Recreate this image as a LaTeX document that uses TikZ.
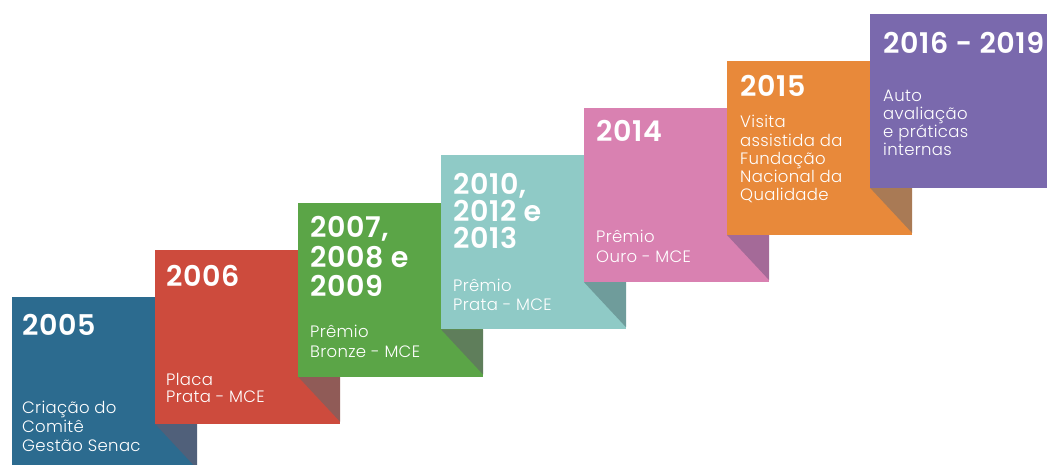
\documentclass[tikz,border=0pt]{standalone}
\usepackage{fontspec}
\setmainfont{Poppins}
\newfontfamily\lightfont{Poppins Light}[LetterSpace=2]
\newfontfamily\yrfont{Poppins SemiBold}[LetterSpace=2]
\definecolor{cA}{HTML}{2C6B8F}
\definecolor{cB}{HTML}{CD4B3D}
\definecolor{cC}{HTML}{5BA547}
\definecolor{cD}{HTML}{8FCAC6}
\definecolor{cE}{HTML}{D981B1}
\definecolor{cF}{HTML}{E8893A}
\definecolor{cG}{HTML}{7A69AD}
\definecolor{sA}{HTML}{50607A}
\definecolor{sB}{HTML}{905B57}
\definecolor{sC}{HTML}{5F7E5B}
\definecolor{sD}{HTML}{6F9C9B}
\definecolor{sE}{HTML}{A46A98}
\definecolor{sF}{HTML}{A97A55}
\begin{document}
\begin{tikzpicture}[x=1pt,y=-1pt,
  yr/.style={anchor=base west, inner sep=0pt, text=white, font=\fontsize{28.5}{28}\selectfont\yrfont},
  bd/.style={anchor=base west, inner sep=0pt, text=white, font=\fontsize{16.5}{16}\selectfont\lightfont}]
\useasboundingbox (0,0) rectangle (1047,465);
\clip (0,0) rectangle (1047,465);
\fill[white] (0,0) rectangle (1047,465);
% boxes and fold shadows
\fill[cA] (12,297) rectangle (197,471);
\fill[sA] (155,423.8) -- (197,423.8) -- (197,468.8) -- cycle;
\fill[cB] (155,249.8) rectangle (340,423.8);
\fill[sB] (298,376.6) -- (340,376.6) -- (340,421.6) -- cycle;
\fill[cC] (298,202.6) rectangle (483,376.6);
\fill[sC] (441,329.4) -- (483,329.4) -- (483,374.4) -- cycle;
\fill[cD] (441,155.4) rectangle (626,329.4);
\fill[sD] (584,282.2) -- (626,282.2) -- (626,327.2) -- cycle;
\fill[cE] (584,108.2) rectangle (769,282.2);
\fill[sE] (727,235) -- (769,235) -- (769,280) -- cycle;
\fill[cF] (727,61) rectangle (912,235);
\fill[sF] (870,187.8) -- (912,187.8) -- (912,232.8) -- cycle;
\fill[cG] (870,13.8) rectangle (1055,187.8);
% years
\node[yr] (y1) at (22,335) {2005};
\node[yr] (y2) at (166,287) {2006};
\foreach \t [count=\k from 0] in {{2007,},{2008 e},2009}
  \node[yr] (y3-\k) at (310,237.5+29.5*\k) {\t};
\foreach \t [count=\k from 0] in {{2010,},{2012 e},2013}
  \node[yr] (y4-\k) at (453,195+26.7*\k) {\t};
\node[yr] (y5) at (596,141.7) {2014};
\node[yr] (y6) at (740,96.7) {2015};
\node[yr] (y7) at (883,53.3) {2016 - 2019};
% descriptions
\foreach \t [count=\k from 0] in {Criação do,Comitê,Gestão Senac}
  \node[bd] (d1-\k) at (22,413+19*\k) {\t};
\foreach \t [count=\k from 0] in {Placa,Prata - MCE}
  \node[bd] (d2-\k) at (166,385+17*\k) {\t};
\foreach \t [count=\k from 0] in {Prêmio,Bronze - MCE}
  \node[bd] (d3-\k) at (310,337+20*\k) {\t};
\foreach \t [count=\k from 0] in {Prêmio,Prata - MCE}
  \node[bd] (d4-\k) at (453,291.7+18.5*\k) {\t};
\foreach \t [count=\k from 0] in {Prêmio,Ouro - MCE}
  \node[bd] (d5-\k) at (596,243+19*\k) {\t};
\foreach \t [count=\k from 0] in {Visita,assistida da,Fundação,Nacional da,Qualidade}
  \node[bd] (d6-\k) at (740,128+18.2*\k) {\t};
\foreach \t [count=\k from 0] in {Auto,avaliação,e práticas,internas}
  \node[bd] (d7-\k) at (883,102+17.7*\k) {\t};
\end{tikzpicture}
\end{document}
